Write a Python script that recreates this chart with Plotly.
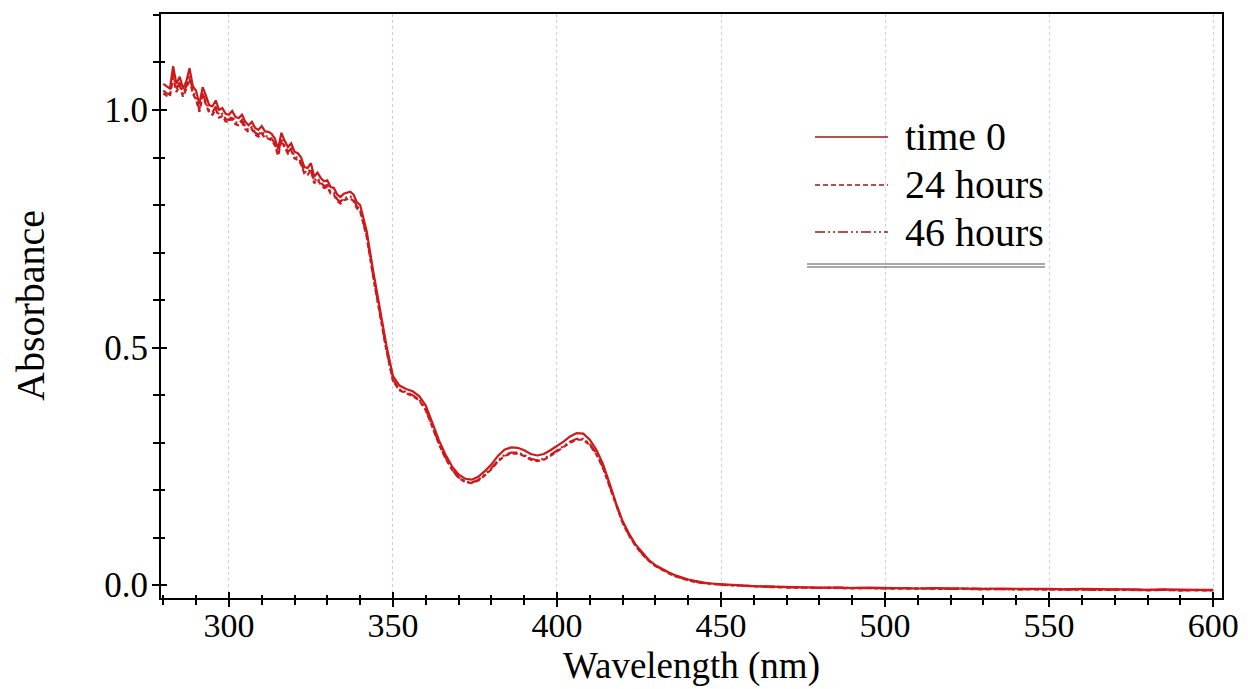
import plotly.graph_objects as go

# Wavelength sampling (nm): 1 nm through the noisy UV end, 2 nm through the bands, 5 nm in the flat tail
wavelength = list(range(280, 341)) + list(range(342, 451, 2)) + list(range(455, 601, 5))

# Absorbance at time 0
abs_t0 = [
    1.055, 1.050, 1.045, 1.092, 1.055, 1.070, 1.045, 1.060, 1.088, 1.050,   # 280-289
    1.040, 1.012, 1.048, 1.030, 1.010, 1.008, 1.020, 1.000, 1.004, 0.992,   # 290-299
    0.990, 0.998, 0.985, 0.983, 0.990, 0.975, 0.968, 0.975, 0.962, 0.958,   # 300-309
    0.966, 0.955, 0.954, 0.950, 0.940, 0.918, 0.952, 0.935, 0.922, 0.930,   # 310-319
    0.912, 0.909, 0.900, 0.880, 0.878, 0.888, 0.860, 0.868, 0.857, 0.850,   # 320-329
    0.852, 0.838, 0.836, 0.822, 0.817, 0.824, 0.826, 0.828, 0.822, 0.806,   # 330-339
    0.800,                                                                  # 340
    0.745, 0.660, 0.580, 0.505, 0.440, 0.420, 0.413, 0.408, 0.398, 0.378,   # 342-360
    0.342, 0.305, 0.275, 0.250, 0.233, 0.224, 0.222, 0.228, 0.240, 0.254,   # 362-380
    0.272, 0.285, 0.290, 0.289, 0.284, 0.276, 0.273, 0.276, 0.284, 0.293,   # 382-400
    0.302, 0.313, 0.320, 0.319, 0.306, 0.285, 0.255, 0.215, 0.172, 0.135,   # 402-420
    0.108, 0.085, 0.068, 0.053, 0.042, 0.034, 0.027, 0.021, 0.016, 0.012,   # 422-440
    0.009, 0.006, 0.004, 0.003, 0.002,                                      # 442-450
    0.000, -0.002, -0.003, -0.004, -0.004, -0.005, -0.005, -0.006, -0.005, -0.006,  # 455-500
    -0.006, -0.007, -0.006, -0.007, -0.007, -0.008, -0.007, -0.008, -0.008, -0.008,  # 505-550
    -0.009, -0.008, -0.009, -0.009, -0.009, -0.010, -0.009, -0.010, -0.010, -0.010,  # 555-600
]

# Absorbance after 24 hours
abs_24h = [
    1.035, 1.030, 1.028, 1.068, 1.038, 1.052, 1.028, 1.044, 1.066, 1.034,
    1.022, 0.996, 1.030, 1.012, 0.994, 0.990, 1.002, 0.984, 0.987, 0.976,
    0.975, 0.982, 0.970, 0.968, 0.974, 0.960, 0.954, 0.960, 0.948, 0.944,
    0.951, 0.941, 0.940, 0.936, 0.926, 0.904, 0.936, 0.921, 0.908, 0.915,
    0.898, 0.895, 0.886, 0.866, 0.864, 0.873, 0.846, 0.853, 0.843, 0.836,
    0.838, 0.824, 0.822, 0.808, 0.803, 0.810, 0.812, 0.814, 0.808, 0.793,
    0.787,
    0.733, 0.648, 0.568, 0.494, 0.430, 0.410, 0.404, 0.398, 0.389, 0.368,
    0.333, 0.297, 0.267, 0.243, 0.226, 0.217, 0.215, 0.220, 0.231, 0.244,
    0.260, 0.272, 0.277, 0.277, 0.272, 0.264, 0.261, 0.264, 0.272, 0.281,
    0.290, 0.300, 0.306, 0.306, 0.295, 0.275, 0.247, 0.208, 0.167, 0.131,
    0.104, 0.082, 0.065, 0.051, 0.040, 0.032, 0.025, 0.019, 0.014, 0.010,
    0.007, 0.005, 0.003, 0.002, 0.001,
    -0.001, -0.003, -0.004, -0.005, -0.005, -0.006, -0.006, -0.007, -0.006, -0.007,
    -0.007, -0.008, -0.007, -0.008, -0.008, -0.009, -0.008, -0.009, -0.009, -0.009,
    -0.010, -0.009, -0.010, -0.010, -0.010, -0.011, -0.010, -0.011, -0.011, -0.011,
]

# Absorbance after 46 hours
abs_46h = [
    1.041, 1.035, 1.033, 1.077, 1.043, 1.058, 1.033, 1.050, 1.074, 1.039,
    1.027, 1.001, 1.035, 1.017, 0.999, 0.995, 1.007, 0.989, 0.992, 0.981,
    0.979, 0.987, 0.974, 0.972, 0.979, 0.964, 0.958, 0.964, 0.952, 0.948,
    0.955, 0.945, 0.944, 0.940, 0.930, 0.908, 0.941, 0.925, 0.912, 0.919,
    0.902, 0.899, 0.890, 0.870, 0.868, 0.877, 0.850, 0.857, 0.847, 0.840,
    0.842, 0.828, 0.826, 0.812, 0.807, 0.814, 0.816, 0.818, 0.812, 0.797,
    0.791,
    0.736, 0.651, 0.571, 0.497, 0.432, 0.412, 0.406, 0.400, 0.391, 0.370,
    0.335, 0.299, 0.269, 0.244, 0.227, 0.218, 0.216, 0.221, 0.233, 0.246,
    0.262, 0.274, 0.279, 0.279, 0.274, 0.266, 0.263, 0.266, 0.274, 0.283,
    0.292, 0.302, 0.308, 0.308, 0.297, 0.277, 0.249, 0.210, 0.169, 0.132,
    0.105, 0.083, 0.066, 0.052, 0.041, 0.033, 0.026, 0.020, 0.015, 0.011,
    0.008, 0.005, 0.004, 0.002, 0.001,
    -0.001, -0.002, -0.004, -0.004, -0.005, -0.006, -0.005, -0.006, -0.006, -0.007,
    -0.006, -0.007, -0.007, -0.008, -0.007, -0.008, -0.008, -0.009, -0.008, -0.009,
    -0.009, -0.009, -0.010, -0.009, -0.010, -0.010, -0.010, -0.011, -0.010, -0.011,
]

assert len(wavelength) == len(abs_t0) == len(abs_24h) == len(abs_46h)

series_names = ["time 0", "24 hours", "46 hours"]
series_dash = ["solid", "5px,3px", "10px,3px,2px,3px,2px,3px"]
series_values = [abs_t0, abs_24h, abs_46h]

x_ticks = [300, 350, 400, 450, 500, 550, 600]
y_ticks = [0.0, 0.5, 1.0]
y_tick_text = ["0.0", "0.5", "1.0"]

X_RANGE = [279.3, 602.7]
Y_RANGE = [-0.027, 1.202]

CURVE = "#cc1a1c"
KEY = "#9a1a1a"
SERIF = "Liberation Serif, Times New Roman, serif"

fig = go.Figure()

for name, vals, dash in zip(series_names[::-1], series_values[::-1], series_dash[::-1]):
    fig.add_trace(go.Scatter(
        x=wavelength, y=vals, mode="lines", name=name,
        line=dict(color=CURVE, width=2.2, dash=dash),
        showlegend=False,
    ))

# invisible companion trace carrying the inward half of the crossing ticks
fig.add_trace(go.Scatter(
    x=wavelength, y=abs_t0, xaxis="x2", yaxis="y2", mode="lines",
    line=dict(width=0), opacity=0, hoverinfo="skip", showlegend=False,
))

xtickfont = dict(family=SERIF, size=34, color="black")
ytickfont = dict(family=SERIF, size=35, color="black")

fig.update_layout(
    width=1248, height=689,
    margin=dict(l=161, r=26, t=14, b=91),
    paper_bgcolor="white", plot_bgcolor="white",
    xaxis=dict(
        range=X_RANGE, tickvals=x_ticks, ticks="outside", ticklen=7, tickwidth=2,
        tickcolor="black", showline=True, linecolor="black", linewidth=2, mirror=True,
        showgrid=True, gridcolor="#c9c9ec", gridwidth=1, griddash="dot",
        zeroline=False, tickfont=xtickfont, ticklabelstandoff=-11, automargin=False,
        minor=dict(dtick=10, tick0=0, ticks="outside", ticklen=5, tickwidth=1.5,
                   tickcolor="black", showgrid=False),
    ),
    yaxis=dict(
        range=Y_RANGE, tickvals=y_ticks, ticktext=y_tick_text, ticks="outside", ticklen=7,
        tickwidth=2, tickcolor="black", showline=True, linecolor="black", linewidth=2,
        mirror=True, showgrid=False, zeroline=False, tickfont=ytickfont,
        ticklabelstandoff=-3, automargin=False,
        minor=dict(dtick=0.1, tick0=0, ticks="outside", ticklen=6, tickwidth=1.5,
                   tickcolor="black", showgrid=False),
    ),
    xaxis2=dict(
        range=X_RANGE, overlaying="x", anchor="y", side="bottom", tickvals=x_ticks,
        ticks="inside", ticklen=6, tickwidth=2, tickcolor="black", showticklabels=False,
        showgrid=False, showline=False, zeroline=False, automargin=False,
        minor=dict(dtick=10, tick0=0, ticks="inside", ticklen=3, tickwidth=1.5,
                   tickcolor="black", showgrid=False),
    ),
    yaxis2=dict(
        range=Y_RANGE, overlaying="y", anchor="x", side="left", tickvals=y_ticks,
        ticks="inside", ticklen=6, tickwidth=2, tickcolor="black", showticklabels=False,
        showgrid=False, showline=False, zeroline=False, automargin=False,
        minor=dict(dtick=0.1, tick0=0, ticks="inside", ticklen=4, tickwidth=1.5,
                   tickcolor="black", showgrid=False),
    ),
    showlegend=False,
)

# axis titles
fig.add_annotation(text="Wavelength (nm)", xref="paper", yref="paper", x=0.5, y=0,
                   yanchor="bottom", yshift=-91, showarrow=False,
                   font=dict(family=SERIF, size=37, color="black"))
fig.add_annotation(text="Absorbance", xref="paper", yref="paper", x=0, y=0.5,
                   xanchor="center", xshift=-131, textangle=-90, showarrow=False,
                   font=dict(family=SERIF, size=40, color="black"))

# key: sample strokes, labels and the double rule underneath
key_rows = [0.7894, 0.7072, 0.6267]
for name, dash, yk in zip(series_names, series_dash, key_rows):
    fig.add_shape(type="line", xref="paper", yref="paper", x0=0.6164, x1=0.6852,
                  y0=yk, y1=yk, line=dict(color=KEY, width=1.3, dash=dash))
    fig.add_annotation(text=name, xref="paper", yref="paper", x=0.6993, y=yk,
                       xanchor="left", yanchor="middle", showarrow=False,
                       font=dict(family=SERIF, size=40, color="black"))
for yk in (0.5719, 0.5668):
    fig.add_shape(type="line", xref="paper", yref="paper", x0=0.6089, x1=0.8332,
                  y0=yk, y1=yk, line=dict(color="#555555", width=1.2))

fig.write_html("out.html")
